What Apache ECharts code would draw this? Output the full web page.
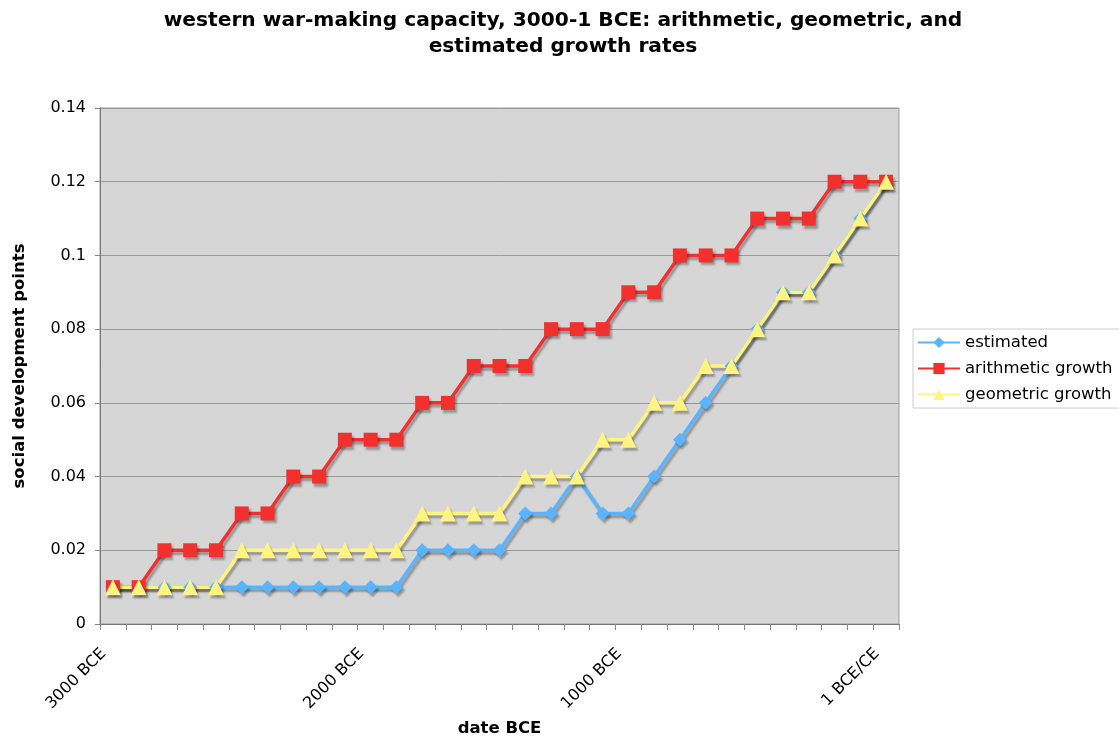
<!DOCTYPE html>
<html>
<head>
<meta charset="utf-8">
<script src="https://cdn.jsdelivr.net/npm/echarts@6/dist/echarts.min.js"></script>
<style>html,body{margin:0;padding:0;background:#fff;}#c{width:1119px;height:738px;}</style>
</head>
<body>
<div id="c"></div>
<script>
const categories = ["3000 BCE","2900 BCE","2800 BCE","2700 BCE","2600 BCE","2500 BCE","2400 BCE","2300 BCE","2200 BCE","2100 BCE",
  "2000 BCE","1900 BCE","1800 BCE","1700 BCE","1600 BCE","1500 BCE","1400 BCE","1300 BCE","1200 BCE","1100 BCE",
  "1000 BCE","900 BCE","800 BCE","700 BCE","600 BCE","500 BCE","400 BCE","300 BCE","200 BCE","100 BCE","1 BCE/CE"];
const estimated = [0.01,0.01,0.01,0.01,0.01,0.01,0.01,0.01,0.01,0.01,0.01,0.01,0.02,0.02,0.02,0.02,0.03,0.03,0.04,0.03,0.03,0.04,0.05,0.06,0.07,0.08,0.09,0.09,0.10,0.11,0.12];
const arithmetic = [0.01,0.01,0.02,0.02,0.02,0.03,0.03,0.04,0.04,0.05,0.05,0.05,0.06,0.06,0.07,0.07,0.07,0.08,0.08,0.08,0.09,0.09,0.10,0.10,0.10,0.11,0.11,0.11,0.12,0.12,0.12];
const geometric = [0.01,0.01,0.01,0.01,0.01,0.02,0.02,0.02,0.02,0.02,0.02,0.02,0.03,0.03,0.03,0.03,0.04,0.04,0.04,0.05,0.05,0.06,0.06,0.07,0.07,0.08,0.09,0.09,0.10,0.11,0.12];
const seriesNames = ["estimated","arithmetic growth","geometric growth"];
const colors = ["#5AB4FF","#F2312F","#FFF382"];
const font = "DejaVu Sans, Verdana, sans-serif";
const shadow = {shadowColor:"rgba(0,0,0,0.3)",shadowOffsetX:2,shadowOffsetY:3,shadowBlur:2};
function mk(name, data, color, symbol, size){
  return {name, type:"line", data, symbol, symbolSize:size, showAllSymbol:true, animation:false,
    lineStyle:Object.assign({color, width:3.5}, shadow),
    itemStyle:Object.assign({color, opacity:1}, shadow)};
}
const chart = echarts.init(document.getElementById("c"));
chart.setOption({
  animation:false,
  color:colors,
  title:{text:"western war-making capacity, 3000-1 BCE: arithmetic, geometric, and\nestimated growth rates",
    left:558, textAlign:"center", top:3,
    textStyle:{fontFamily:font, fontWeight:"bold", fontSize:20.2, lineHeight:26, color:"#000"}},
  legend:{orient:"vertical", left:913, top:329, data:seriesNames, itemWidth:42, itemHeight:14, itemGap:9,
    borderColor:"#ccc", borderWidth:1, padding:[5,8,5,4], backgroundColor:"#fff",
    textStyle:{fontFamily:font, fontSize:16.5, color:"#000"}},
  grid:{left:100, top:108, width:799, height:516, outerBoundsMode:"none", containLabel:false,
    show:true, backgroundColor:"#d6d6d6", borderColor:"#9a9a9a", borderWidth:1},
  xAxis:{type:"category", data:categories, boundaryGap:true, name:"date BCE", nameLocation:"middle", nameGap:96,
    nameMoveOverlap:false,
    nameTextStyle:{fontFamily:font, fontWeight:"bold", fontSize:16.5, color:"#000"},
    axisLine:{lineStyle:{color:"#777", width:1}},
    axisTick:{show:true, interval:0, length:6, lineStyle:{color:"#888"}},
    axisLabel:{interval:9, rotate:45, margin:18, padding:[0,13,0,0], fontFamily:font, fontSize:16, color:"#000"}},
  yAxis:{type:"value", min:0, max:0.14, interval:0.02, name:"social development points", nameLocation:"middle", nameGap:72,
    nameMoveOverlap:false,
    nameTextStyle:{fontFamily:font, fontWeight:"bold", fontSize:16.5, color:"#000"},
    axisLine:{show:true, lineStyle:{color:"#777"}},
    axisTick:{show:true, length:5, lineStyle:{color:"#888"}},
    splitLine:{show:true, lineStyle:{color:"#999", width:1}},
    axisLabel:{margin:14, fontFamily:font, fontSize:16, color:"#000"}},
  series:[
    mk(seriesNames[0], estimated, colors[0], "diamond", 14),
    mk(seriesNames[1], arithmetic, colors[1], "rect", 14),
    mk(seriesNames[2], geometric, colors[2], "triangle", 16)
  ]
});
</script>
</body>
</html>
